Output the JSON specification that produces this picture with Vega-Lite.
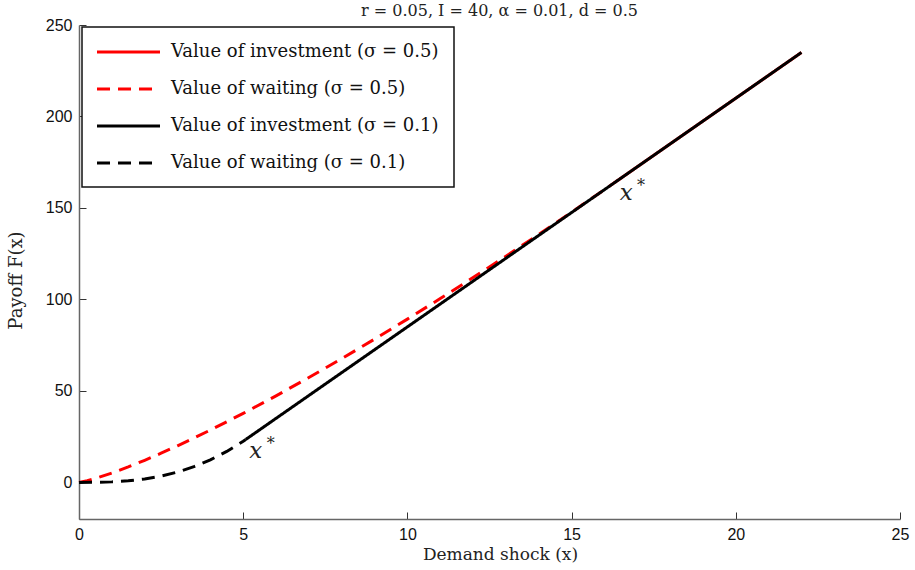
{
  "$schema": "https://vega.github.io/schema/vega-lite/v6.json",
  "width": 821,
  "height": 494,
  "autosize": {"type": "none"},
  "padding": {"left": 79, "top": 25, "right": 15, "bottom": 51},
  "background": "white",
  "title": {
    "text": "r = 0.05, I = 40, α = 0.01, d = 0.5",
    "font": "DejaVu Serif",
    "fontSize": 16,
    "fontWeight": "normal",
    "color": "#222",
    "offset": -2,
    "dx": 10
  },
  "config": {
    "view": {"stroke": null},
    "axis": {
      "grid": false,
      "domainColor": "#666",
      "domainWidth": 1.5,
      "tickColor": "#333",
      "tickSize": -7,
      "labelFont": "Liberation Sans",
      "labelFontSize": 16,
      "labelColor": "#111",
      "labelFlush": false,
      "labelPadding": 14,
      "titleFont": "DejaVu Serif",
      "titleFontWeight": "normal",
      "titleColor": "#222"
    },
    "legend": {
      "orient": "none",
      "legendX": 3,
      "legendY": 2,
      "symbolType": "M-1.176,0H6.235",
      "symbolSize": 289,
      "symbolStrokeWidth": 3,
      "labelFont": "DejaVu Serif",
      "labelFontSize": 18,
      "labelColor": "#111",
      "labelOffset": 54,
      "labelLimit": 0,
      "padding": 15,
      "rowPadding": 18,
      "strokeColor": "#111",
      "strokeWidth": 1.5,
      "fillColor": "white"
    }
  },
  "datasets": {
    "curves": [
      {"series": "Value of investment (σ = 0.5)", "x": 16.4205, "F": 165.256},
      {"series": "Value of investment (σ = 0.5)", "x": 22, "F": 235},
      {"series": "Value of waiting (σ = 0.5)", "x": 0, "F": 0},
      {"series": "Value of waiting (σ = 0.5)", "x": 0.25, "F": 0.914},
      {"series": "Value of waiting (σ = 0.5)", "x": 0.5, "F": 2.161},
      {"series": "Value of waiting (σ = 0.5)", "x": 1, "F": 5.112},
      {"series": "Value of waiting (σ = 0.5)", "x": 1.5, "F": 8.459},
      {"series": "Value of waiting (σ = 0.5)", "x": 2, "F": 12.091},
      {"series": "Value of waiting (σ = 0.5)", "x": 2.5, "F": 15.953},
      {"series": "Value of waiting (σ = 0.5)", "x": 3, "F": 20.008},
      {"series": "Value of waiting (σ = 0.5)", "x": 3.5, "F": 24.229},
      {"series": "Value of waiting (σ = 0.5)", "x": 4, "F": 28.601},
      {"series": "Value of waiting (σ = 0.5)", "x": 5, "F": 37.735},
      {"series": "Value of waiting (σ = 0.5)", "x": 6, "F": 47.324},
      {"series": "Value of waiting (σ = 0.5)", "x": 7, "F": 57.313},
      {"series": "Value of waiting (σ = 0.5)", "x": 8, "F": 67.65},
      {"series": "Value of waiting (σ = 0.5)", "x": 9, "F": 78.31},
      {"series": "Value of waiting (σ = 0.5)", "x": 10, "F": 89.26},
      {"series": "Value of waiting (σ = 0.5)", "x": 11, "F": 100.47},
      {"series": "Value of waiting (σ = 0.5)", "x": 12, "F": 111.94},
      {"series": "Value of waiting (σ = 0.5)", "x": 13, "F": 123.64},
      {"series": "Value of waiting (σ = 0.5)", "x": 14, "F": 135.56},
      {"series": "Value of waiting (σ = 0.5)", "x": 15, "F": 147.69},
      {"series": "Value of waiting (σ = 0.5)", "x": 16, "F": 160.02},
      {"series": "Value of waiting (σ = 0.5)", "x": 16.4205, "F": 165.256},
      {"series": "Value of investment (σ = 0.1)", "x": 5.0806, "F": 23.508},
      {"series": "Value of investment (σ = 0.1)", "x": 22, "F": 235},
      {"series": "Value of waiting (σ = 0.1)", "x": 0, "F": 0},
      {"series": "Value of waiting (σ = 0.1)", "x": 0.5, "F": 0.045},
      {"series": "Value of waiting (σ = 0.1)", "x": 1, "F": 0.291},
      {"series": "Value of waiting (σ = 0.1)", "x": 1.5, "F": 0.871},
      {"series": "Value of waiting (σ = 0.1)", "x": 2, "F": 1.894},
      {"series": "Value of waiting (σ = 0.1)", "x": 2.5, "F": 3.461},
      {"series": "Value of waiting (σ = 0.1)", "x": 3, "F": 5.663},
      {"series": "Value of waiting (σ = 0.1)", "x": 3.5, "F": 8.589},
      {"series": "Value of waiting (σ = 0.1)", "x": 4, "F": 12.319},
      {"series": "Value of waiting (σ = 0.1)", "x": 4.5, "F": 16.936},
      {"series": "Value of waiting (σ = 0.1)", "x": 5, "F": 22.512},
      {"series": "Value of waiting (σ = 0.1)", "x": 5.0806, "F": 23.508}
    ],
    "thresholds": [
      {"x": 5.38, "F": 17.1, "sym": "x", "sup": "*"},
      {"x": 16.66, "F": 158.3, "sym": "x", "sup": "*"}
    ]
  },
  "layer": [
    {
      "data": {"name": "curves"},
      "mark": {"type": "line", "strokeWidth": 3, "strokeCap": "butt"},
      "encoding": {
        "x": {
          "field": "x",
          "type": "quantitative",
          "scale": {"domain": [0, 25], "nice": false},
          "axis": {
            "values": [0, 5, 10, 15, 20, 25],
            "title": "Demand shock (x)",
            "titleFontSize": 17,
            "titleX": 421,
            "titleY": 35,
            "titleAlign": "center",
            "titleBaseline": "middle"
          }
        },
        "y": {
          "field": "F",
          "type": "quantitative",
          "scale": {"domain": [-20, 250], "nice": false},
          "axis": {
            "values": [0, 50, 100, 150, 200, 250],
            "title": "Payoff F(x)",
            "titleFontSize": 18,
            "titleAngle": -90,
            "titleX": -63,
            "titleY": 255,
            "titleAlign": "center",
            "titleBaseline": "middle"
          }
        },
        "color": {
          "field": "series",
          "type": "nominal",
          "scale": {
            "domain": [
              "Value of investment (σ = 0.5)",
              "Value of waiting (σ = 0.5)",
              "Value of investment (σ = 0.1)",
              "Value of waiting (σ = 0.1)"
            ],
            "range": ["#ff0000", "#ff0000", "#000000", "#000000"]
          },
          "legend": {"title": null}
        },
        "strokeDash": {
          "field": "series",
          "type": "nominal",
          "scale": {
            "domain": [
              "Value of investment (σ = 0.5)",
              "Value of waiting (σ = 0.5)",
              "Value of investment (σ = 0.1)",
              "Value of waiting (σ = 0.1)"
            ],
            "range": [[1, 0], [13, 8], [1, 0], [13, 8]]
          },
          "legend": {"title": null}
        }
      }
    },
    {
      "data": {"name": "thresholds"},
      "mark": {
        "type": "text",
        "font": "DejaVu Serif",
        "fontStyle": "italic",
        "fontSize": 23,
        "color": "#222",
        "align": "center",
        "baseline": "middle"
      },
      "encoding": {
        "x": {"field": "x", "type": "quantitative"},
        "y": {"field": "F", "type": "quantitative"},
        "text": {"field": "sym"}
      }
    },
    {
      "data": {"name": "thresholds"},
      "mark": {
        "type": "text",
        "font": "DejaVu Serif",
        "fontSize": 16,
        "color": "#222",
        "align": "center",
        "baseline": "middle",
        "dx": 15,
        "dy": -7
      },
      "encoding": {
        "x": {"field": "x", "type": "quantitative"},
        "y": {"field": "F", "type": "quantitative"},
        "text": {"field": "sup"}
      }
    }
  ]
}
